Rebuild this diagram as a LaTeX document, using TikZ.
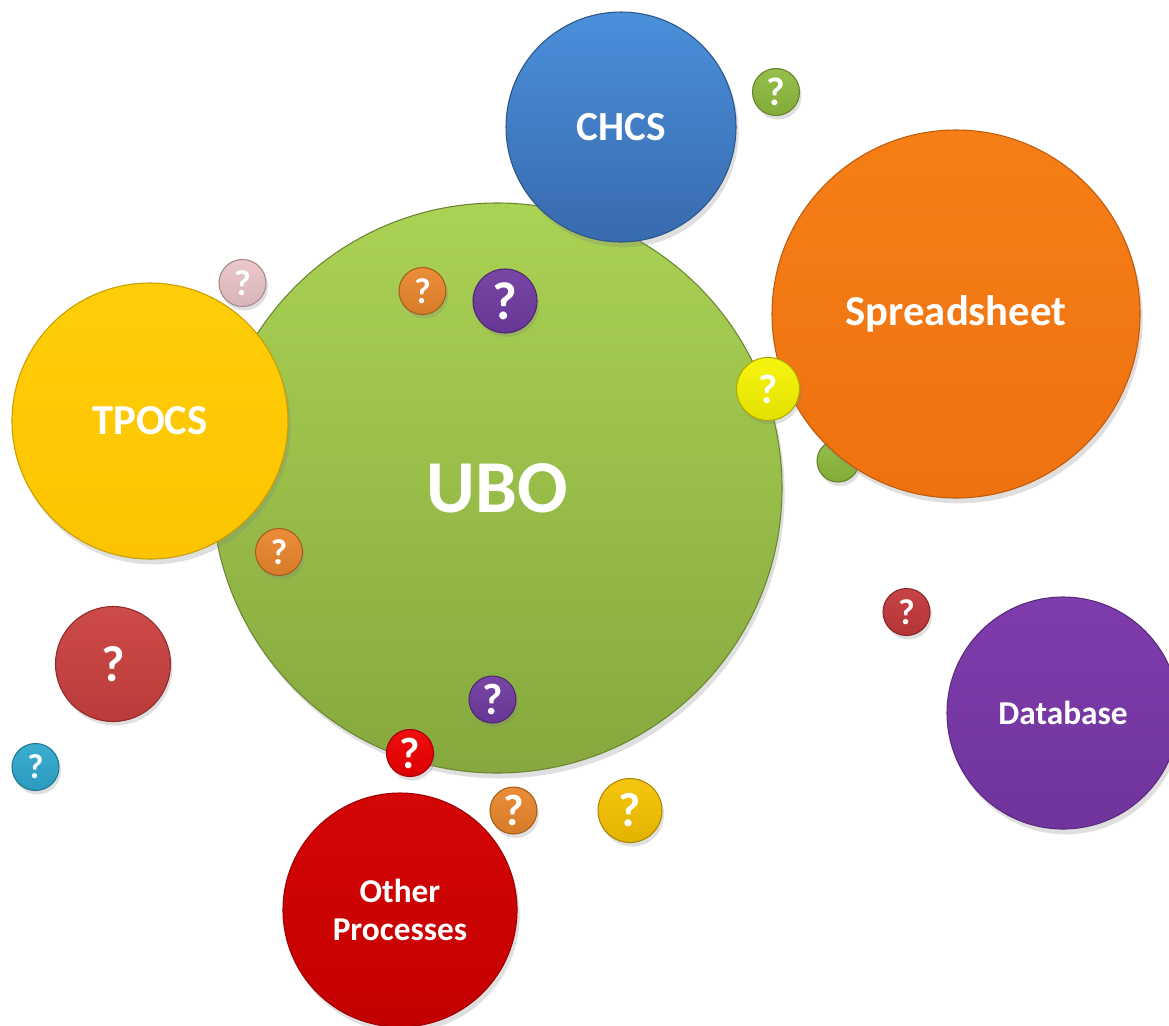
\documentclass[tikz,border=0pt]{standalone}
\usepackage{fontspec}
\setmainfont{Carlito}
\usetikzlibrary{shadows}
\definecolor{ubotop}{RGB}{170,210,84}
\definecolor{ubobot}{RGB}{134,168,62}
\definecolor{bluetop}{RGB}{74,144,218}
\definecolor{bluebot}{RGB}{56,106,174}
\definecolor{orgtop}{RGB}{246,126,22}
\definecolor{orgbot}{RGB}{238,114,16}
\definecolor{yeltop}{RGB}{255,206,8}
\definecolor{yelbot}{RGB}{252,196,0}
\definecolor{purtop}{RGB}{126,60,172}
\definecolor{purbot}{RGB}{112,52,156}
\definecolor{redtop}{RGB}{212,6,6}
\definecolor{redbot}{RGB}{196,0,0}
\definecolor{brick}{RGB}{202,64,62}
\definecolor{cyanq}{RGB}{46,168,206}
\definecolor{pinkq}{RGB}{234,196,200}
\definecolor{orangeq}{RGB}{234,134,44}
\definecolor{purpleq}{RGB}{112,58,160}
\definecolor{brightyel}{RGB}{246,244,0}
\definecolor{greenq}{RGB}{142,186,62}
\definecolor{redq}{RGB}{196,56,58}
\definecolor{vividred}{RGB}{238,0,0}
\definecolor{goldq}{RGB}{246,194,0}
\tikzset{
  bub/.style n args={3}{circle, inner sep=0pt, minimum size=#1*1.5pt,
    top color=#2!94!white, bottom color=#2!92!black,
    draw=#2!70!black, line width=0.8pt,
    drop shadow={opacity=0.25, shadow xshift=1.5pt, shadow yshift=-3pt},
    text=white, font=\bfseries #3, align=center},
  big/.style n args={4}{circle, inner sep=0pt, minimum size=#1*1.5pt,
    top color=#2, bottom color=#3,
    draw=#3!80!black, line width=0.8pt,
    drop shadow={opacity=0.25, shadow xshift=2pt, shadow yshift=-4pt},
    text=white, font=\bfseries #4, align=center},
}
\newcommand{\fsz}[1]{\fontsize{#1}{#1}\selectfont}
\begin{document}
\begin{tikzpicture}[x=0.75pt, y=-0.75pt]
\useasboundingbox (0,0) rectangle (1169,1025);
\clip (0,0) rectangle (1169,1025);
\fill[white] (0,0) rectangle (1169,1025);
% hidden green behind spreadsheet
\node[bub={21}{greenq}{\fsz{20}}] (qg2) at (838,461) {};
\node[big={285}{ubotop}{ubobot}{\fsz{56}}] (ubo) at (497,488) {UBO};
\node[big={115}{bluetop}{bluebot}{\fsz{31}}] (chcs) at (621,127) {CHCS};
\node[big={184}{orgtop}{orgbot}{\fsz{32}}] (sheet) at (956,314) {Spreadsheet};
\node[big={138}{yeltop}{yelbot}{\fsz{32}}] (tpocs) at (150,421) {TPOCS};
\node[big={116}{purtop}{purbot}{\fsz{25}}] (db) at (1063,713) {Database};
\node[big={117}{redtop}{redbot}{\fontsize{25}{28.5}\selectfont}] (other) at (400,910) {Other\\Processes};
% question bubbles
\node[bub={57.5}{brick}{\fsz{38}}] (q1) at (113,664) {?};
\node[bub={23.5}{cyanq}{\fsz{26}}] (q2) at (35.5,767) {?};
\node[bub={23.5}{pinkq}{\fsz{27}}] (q3) at (242.5,283) {?};
\node[bub={23.5}{orangeq}{\fsz{27}}] (q4) at (422.5,291) {?};
\node[bub={32}{purpleq}{\fsz{40}}] (q5) at (505,301) {?};
\node[bub={31.5}{brightyel}{\fsz{31}}] (q6) at (768,389) {?};
\node[bub={23.5}{greenq}{\fsz{30}}] (q7) at (776,92) {?};
\node[bub={23.5}{orangeq}{\fsz{27}}] (q8) at (279,552) {?};
\node[bub={23.5}{redq}{\fsz{27}}] (q9) at (906.5,612) {?};
\node[bub={23.5}{purpleq}{\fsz{33}}] (q10) at (492.5,699.5) {?};
\node[bub={23.5}{vividred}{\fsz{33}}] (q11) at (410,753) {?};
\node[bub={23.5}{orangeq}{\fsz{33}}] (q12) at (513.5,810.5) {?};
\node[bub={32}{goldq}{\fsz{36}}] (q13) at (630,810.5) {?};
\end{tikzpicture}
\end{document}
